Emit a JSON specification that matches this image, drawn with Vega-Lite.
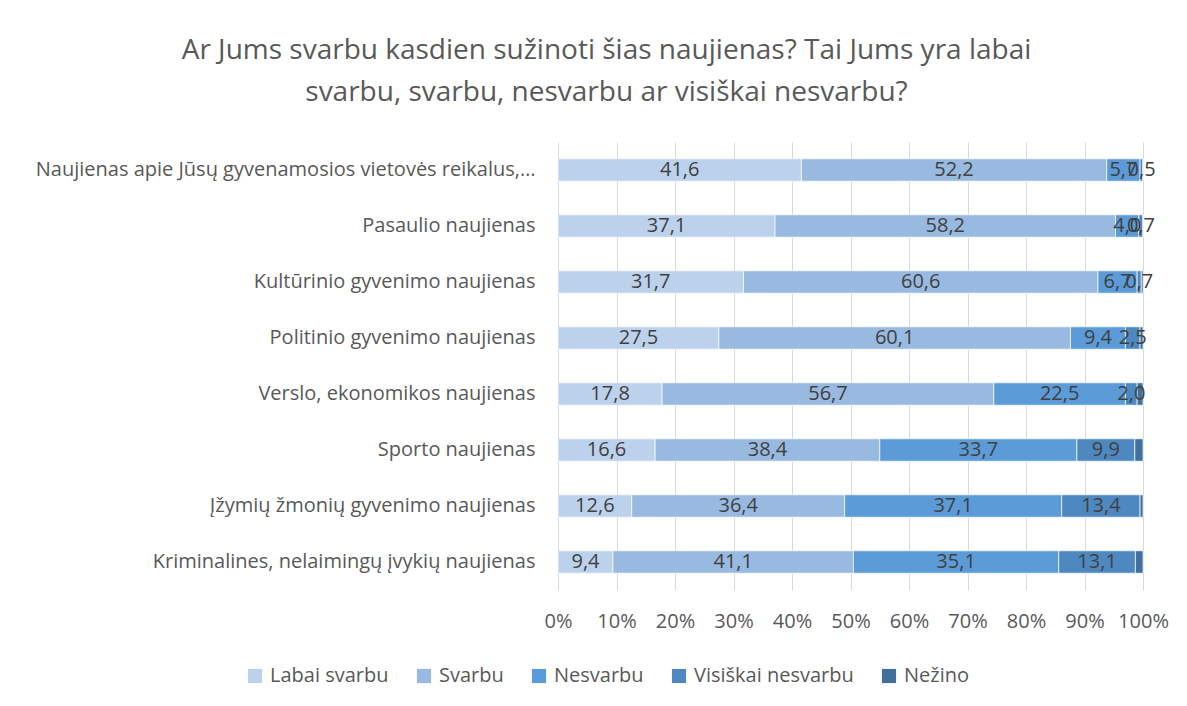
{
"$schema": "https://vega.github.io/schema/vega-lite/v6.json",
"width": 585, "height": 448,
"autosize": {"type": "none"},
"padding": {"left": 558, "top": 142, "right": 44, "bottom": 116},
"background": "white",
"title": {"text": ["Ar Jums svarbu kasdien sužinoti šias naujienas? Tai Jums yra labai", "svarbu, svarbu, nesvarbu ar visiškai nesvarbu?"], "fontSize": 28, "font": "Open Sans", "fontWeight": "normal", "color": "#595959", "anchor": "middle", "dx": -244, "lineHeight": 42, "offset": 35},
"config": {"locale": {"number": {"decimal": ",", "thousands": " ", "grouping": [3], "currency": ["", "€"]}}, "view": {"stroke": null}, "font": "Open Sans"},
"data": {"values": [
{"q": "Naujienas apie Jūsų gyvenamosios vietovės reikalus,…", "r": "Labai svarbu", "v": 41.6},
{"q": "Naujienas apie Jūsų gyvenamosios vietovės reikalus,…", "r": "Svarbu", "v": 52.2},
{"q": "Naujienas apie Jūsų gyvenamosios vietovės reikalus,…", "r": "Nesvarbu", "v": 5.7},
{"q": "Naujienas apie Jūsų gyvenamosios vietovės reikalus,…", "r": "Visiškai nesvarbu", "v": 0.5},
{"q": "Naujienas apie Jūsų gyvenamosios vietovės reikalus,…", "r": "Nežino", "v": 0.0},
{"q": "Pasaulio naujienas", "r": "Labai svarbu", "v": 37.1},
{"q": "Pasaulio naujienas", "r": "Svarbu", "v": 58.2},
{"q": "Pasaulio naujienas", "r": "Nesvarbu", "v": 4.0},
{"q": "Pasaulio naujienas", "r": "Visiškai nesvarbu", "v": 0.7},
{"q": "Pasaulio naujienas", "r": "Nežino", "v": 0.0},
{"q": "Kultūrinio gyvenimo naujienas", "r": "Labai svarbu", "v": 31.7},
{"q": "Kultūrinio gyvenimo naujienas", "r": "Svarbu", "v": 60.6},
{"q": "Kultūrinio gyvenimo naujienas", "r": "Nesvarbu", "v": 6.7},
{"q": "Kultūrinio gyvenimo naujienas", "r": "Visiškai nesvarbu", "v": 0.7},
{"q": "Kultūrinio gyvenimo naujienas", "r": "Nežino", "v": 0.3},
{"q": "Politinio gyvenimo naujienas", "r": "Labai svarbu", "v": 27.5},
{"q": "Politinio gyvenimo naujienas", "r": "Svarbu", "v": 60.1},
{"q": "Politinio gyvenimo naujienas", "r": "Nesvarbu", "v": 9.4},
{"q": "Politinio gyvenimo naujienas", "r": "Visiškai nesvarbu", "v": 2.5},
{"q": "Politinio gyvenimo naujienas", "r": "Nežino", "v": 0.5},
{"q": "Verslo, ekonomikos naujienas", "r": "Labai svarbu", "v": 17.8},
{"q": "Verslo, ekonomikos naujienas", "r": "Svarbu", "v": 56.7},
{"q": "Verslo, ekonomikos naujienas", "r": "Nesvarbu", "v": 22.5},
{"q": "Verslo, ekonomikos naujienas", "r": "Visiškai nesvarbu", "v": 2.0},
{"q": "Verslo, ekonomikos naujienas", "r": "Nežino", "v": 1.0},
{"q": "Sporto naujienas", "r": "Labai svarbu", "v": 16.6},
{"q": "Sporto naujienas", "r": "Svarbu", "v": 38.4},
{"q": "Sporto naujienas", "r": "Nesvarbu", "v": 33.7},
{"q": "Sporto naujienas", "r": "Visiškai nesvarbu", "v": 9.9},
{"q": "Sporto naujienas", "r": "Nežino", "v": 1.4},
{"q": "Įžymių žmonių gyvenimo naujienas", "r": "Labai svarbu", "v": 12.6},
{"q": "Įžymių žmonių gyvenimo naujienas", "r": "Svarbu", "v": 36.4},
{"q": "Įžymių žmonių gyvenimo naujienas", "r": "Nesvarbu", "v": 37.1},
{"q": "Įžymių žmonių gyvenimo naujienas", "r": "Visiškai nesvarbu", "v": 13.4},
{"q": "Įžymių žmonių gyvenimo naujienas", "r": "Nežino", "v": 0.5},
{"q": "Kriminalines, nelaimingų įvykių naujienas", "r": "Labai svarbu", "v": 9.4},
{"q": "Kriminalines, nelaimingų įvykių naujienas", "r": "Svarbu", "v": 41.1},
{"q": "Kriminalines, nelaimingų įvykių naujienas", "r": "Nesvarbu", "v": 35.1},
{"q": "Kriminalines, nelaimingų įvykių naujienas", "r": "Visiškai nesvarbu", "v": 13.1},
{"q": "Kriminalines, nelaimingų įvykių naujienas", "r": "Nežino", "v": 1.3}
]},
"transform": [
{"calculate": "indexof(['Labai svarbu','Svarbu','Nesvarbu','Visiškai nesvarbu','Nežino'], datum.r)", "as": "o"},
{"stack": "v", "groupby": ["q"], "sort": [{"field": "o", "order": "ascending"}], "offset": "normalize", "as": ["v0", "v1"]},
{"calculate": "(datum.v0 + datum.v1) / 2", "as": "m"}
],
"encoding": {
"y": {"field": "q", "type": "nominal", "sort": null, "scale": {"paddingInner": 0.6, "paddingOuter": 0.3}, "axis": {"title": null, "domain": false, "ticks": false, "labelFontSize": 20, "labelColor": "#595959", "labelPadding": 23, "labelLimit": 600, "labelFont": "Open Sans"}}
},
"layer": [
{"mark": {"type": "bar", "stroke": "white", "strokeWidth": 0.7},
 "encoding": {
  "x": {"field": "v0", "type": "quantitative", "scale": {"domain": [0, 1]}, "axis": {"title": null, "format": ".0%", "values": [0, 0.1, 0.2, 0.3, 0.4, 0.5, 0.6, 0.7, 0.8, 0.9, 1], "grid": true, "gridColor": "#D9D9D9", "gridWidth": 1, "domain": false, "ticks": false, "labelFontSize": 20, "labelColor": "#595959", "labelPadding": 21, "labelFlush": false, "labelFont": "Open Sans"}},
  "x2": {"field": "v1"},
  "color": {"field": "r", "type": "nominal", "sort": ["Labai svarbu", "Svarbu", "Nesvarbu", "Visiškai nesvarbu", "Nežino"], "scale": {"domain": ["Labai svarbu", "Svarbu", "Nesvarbu", "Visiškai nesvarbu", "Nežino"], "range": ["#BCD1EC", "#98B9E0", "#5A9BD8", "#4E88C0", "#41709C"]}, "legend": {"orient": "none", "legendX": -313, "legendY": 524, "direction": "horizontal", "title": null, "symbolType": "square", "symbolSize": 200, "symbolStrokeWidth": 0, "labelFontSize": 20, "labelColor": "#595959", "labelFont": "Open Sans", "columnPadding": 25, "labelOffset": 5}}
 }},
{"transform": [{"filter": "datum.r !== 'Nežino'"}],
 "mark": {"type": "text", "fontSize": 20, "color": "#404040", "font": "Open Sans"},
 "encoding": {
  "x": {"field": "m", "type": "quantitative"},
  "text": {"field": "v", "type": "quantitative", "format": ".1f"}
 }}
]
}
